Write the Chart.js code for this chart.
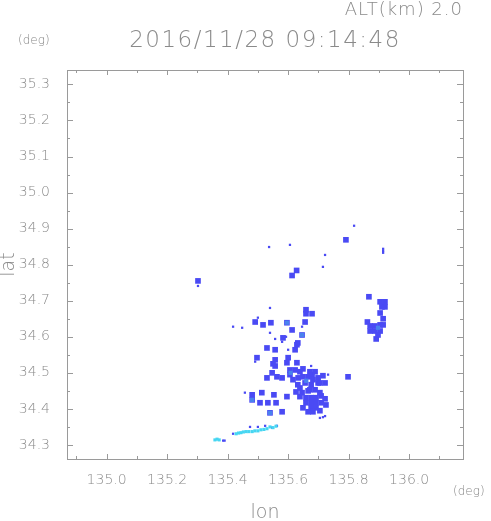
<!DOCTYPE html>
<html>
<head>
<meta charset="utf-8">
<script src="https://cdn.jsdelivr.net/npm/chart.js@4"></script>
<style>
  html, body { margin: 0; padding: 0; background: #fff; }
  canvas { display: block; }
</style>
</head>
<body>
<canvas id="radar" width="491" height="521"></canvas>
<script>
// ---- data (lon / lat in degrees) ----
const xTicks = [135.0, 135.2, 135.4, 135.6, 135.8, 136.0];
const yTicks = [34.3, 34.4, 34.5, 34.6, 34.7, 34.8, 34.9, 35.0, 35.1, 35.2, 35.3];
const xMinor = [134.9, 135.1, 135.3, 135.5, 135.7, 135.9, 136.1];
const yMinor = [34.35, 34.45, 34.55, 34.65, 34.75, 34.85, 34.95, 35.05, 35.15, 35.25];

// echo cells (main blue)
const cellLon = [135.791, 135.628, 135.613, 135.302, 135.867, 135.659, 135.659, 135.679,
  135.904, 135.920, 135.910, 135.904, 135.914, 135.871, 135.887, 135.904, 135.871, 135.887,
  135.904, 135.891, 135.798, 135.491, 135.656, 135.613, 135.646, 135.583, 135.623, 135.632,
  135.557, 135.557, 135.600, 135.629, 135.550, 135.596, 135.649, 135.547, 135.563, 135.580,
  135.606, 135.530, 135.649, 135.666, 135.679, 135.699, 135.715, 135.632, 135.656, 135.676,
  135.705, 135.626, 135.646, 135.666, 135.659, 135.676, 135.692, 135.709, 135.722, 135.659,
  135.676, 135.692, 135.709, 135.676, 135.692, 135.705, 135.481, 135.481, 135.540, 135.513,
  135.560, 135.580, 135.507, 135.533, 135.553, 135.596, 135.639, 135.530, 135.557, 135.497,
  135.543, 135.517, 135.596, 135.629,
  135.606, 135.623, 135.639, 135.672, 135.689, 135.616, 135.633, 135.682, 135.699, 135.722,
  135.639, 135.672, 135.689, 135.649, 135.725, 135.682, 135.666, 135.705,
  135.862, 135.914, 135.897, 135.920];
const cellLat = [34.869, 34.784, 34.770, 34.755, 34.711, 34.675, 34.664, 34.664,
  34.697, 34.697, 34.683, 34.666, 34.650, 34.630, 34.630, 34.633, 34.616, 34.616,
  34.616, 34.594, 34.489, 34.641, 34.641, 34.619, 34.605, 34.597, 34.564, 34.583,
  34.536, 34.519, 34.542, 34.528, 34.525, 34.528, 34.511, 34.500, 34.489, 34.486,
  34.495, 34.486, 34.489, 34.489, 34.495, 34.486, 34.492, 34.467, 34.472, 34.467,
  34.472, 34.447, 34.445, 34.450, 34.431, 34.431, 34.431, 34.436, 34.428, 34.417,
  34.417, 34.417, 34.417, 34.403, 34.403, 34.395, 34.425, 34.439, 34.389, 34.445,
  34.417, 34.392, 34.417, 34.417, 34.439, 34.434, 34.434, 34.569, 34.564, 34.542,
  34.639, 34.633, 34.639, 34.578,
  34.508, 34.508, 34.503, 34.503, 34.503, 34.481, 34.486, 34.481, 34.472, 34.472,
  34.458, 34.453, 34.453, 34.403, 34.411, 34.392, 34.392, 34.445,
  34.641, 34.633, 34.605, 34.683];

// single small echoes
const speckLon = [135.818, 135.537, 135.606, 135.722, 135.715, 135.302, 135.914, 135.914,
  135.914, 135.540, 135.418, 135.448, 135.500, 135.540, 135.557, 135.580, 135.600, 135.676,
  135.705, 135.715, 135.722, 135.491, 135.646, 135.593, 135.732, 135.457, 135.474, 135.500,
  135.524, 135.547, 135.563, 135.418, 135.385, 135.390];
const speckLat = [34.908, 34.849, 34.855, 34.827, 34.794, 34.741, 34.844, 34.838,
  34.833, 34.680, 34.628, 34.625, 34.653, 34.611, 34.594, 34.586, 34.564, 34.519,
  34.375, 34.377, 34.380, 34.531, 34.628, 34.600, 34.495, 34.445, 34.350, 34.350,
  34.353, 34.348, 34.353, 34.331, 34.312, 34.312];

// stronger echo cores
const coreLon = [135.481, 135.540, 135.897, 135.596, 135.646, 135.608, 135.660];
const coreLat = [34.425, 34.389, 34.625, 34.639, 34.605, 34.500, 34.478];

// weak band to the south-west
const bandLon = [135.358, 135.365, 135.372, 135.428, 135.436, 135.444, 135.452, 135.461,
  135.470, 135.481, 135.490, 135.500, 135.510, 135.520, 135.530, 135.540, 135.550, 135.560];
const bandLat = [34.314, 34.316, 34.314, 34.331, 34.333, 34.334, 34.336, 34.337,
  34.337, 34.337, 34.339, 34.339, 34.342, 34.343, 34.345, 34.350, 34.348, 34.352];

const toPts = (lons, lats) => lons.map((v, i) => ({ x: v, y: lats[i] }));

const grey = '#8a8a8a';
const font = 'DejaVu Sans';

// inward tick marks + frame, drawn through the chart's scales
const frame = {
  id: 'frame',
  afterDraw(chart) {
    const { ctx, chartArea: a, scales: { x, y } } = chart;
    ctx.save();
    ctx.strokeStyle = '#9a9a9a';
    ctx.lineWidth = 1;
    ctx.strokeRect(a.left + 0.5, a.top + 0.5, a.right - a.left, a.bottom - a.top);
    ctx.beginPath();
    const xt = (v, len) => {
      const px = Math.round(x.getPixelForValue(v)) + 0.5;
      ctx.moveTo(px, a.bottom); ctx.lineTo(px, a.bottom - len);
      ctx.moveTo(px, a.top); ctx.lineTo(px, a.top + len);
    };
    const yt = (v, len) => {
      const py = Math.round(y.getPixelForValue(v)) + 0.5;
      ctx.moveTo(a.left, py); ctx.lineTo(a.left + len, py);
      ctx.moveTo(a.right, py); ctx.lineTo(a.right - len, py);
    };
    xTicks.forEach(v => xt(v, 5));
    xMinor.forEach(v => xt(v, 3));
    yTicks.forEach(v => yt(v, 6));
    yMinor.forEach(v => yt(v, 3));
    ctx.stroke();

    // text around the frame
    ctx.fillStyle = grey;
    ctx.textBaseline = 'alphabetic';
    ctx.letterSpacing = '1px';
    ctx.font = `200 18px "${font}"`;
    ctx.textAlign = 'right';
    ctx.fillText('ALT(km) 2.0', a.right, 15);
    ctx.font = `200 23px "${font}"`;
    ctx.textAlign = 'center';
    ctx.letterSpacing = '1.5px';
    ctx.fillText('2016/11/28 09:14:48', (a.left + a.right) / 2, 47);
    ctx.letterSpacing = '0px';
    ctx.font = `200 12px "${font}"`;
    ctx.textAlign = 'left';
    ctx.fillText('(deg)', 18, 44);
    ctx.fillText('(deg)', 453, 495);
    ctx.font = `200 19px "${font}"`;
    ctx.textAlign = 'center';
    ctx.fillText('lon', (a.left + a.right) / 2, 518);
    ctx.translate(14, (a.top + a.bottom) / 2);
    ctx.rotate(-Math.PI / 2);
    ctx.fillText('lat', 0, 0);
    ctx.restore();
  }
};

new Chart(document.getElementById('radar'), {
  type: 'scatter',
  data: {
    datasets: [
      { data: toPts(coreLon, coreLat), backgroundColor: '#4a82ee', pointStyle: 'rect', pointRadius: 3, borderWidth: 0 },
      { data: toPts(bandLon, bandLat), backgroundColor: '#46d6f2', pointStyle: 'rect', pointRadius: 2.2, borderWidth: 0 },
      { data: toPts(speckLon, speckLat), backgroundColor: '#4a4af4', pointStyle: 'rect', pointRadius: 1.6, borderWidth: 0 },
      { data: toPts(cellLon, cellLat), backgroundColor: '#4a4af4', pointStyle: 'rect', pointRadius: 4, borderWidth: 0 }
    ]
  },
  options: {
    responsive: false,
    animation: false,
    layout: { padding: { top: 70, right: 28, left: 0, bottom: 0 } },
    plugins: { legend: { display: false }, tooltip: { enabled: false } },
    scales: {
      x: {
        type: 'linear', min: 134.869, max: 136.178,
        grid: { display: false }, border: { display: false },
        afterBuildTicks: s => { s.ticks = xTicks.map(v => ({ value: v })); },
        afterFit: s => { s.height = 62; },
        ticks: { padding: 5, color: grey, font: { family: font, size: 14, weight: 200 }, callback: v => v.toFixed(1) }
      },
      y: {
        type: 'linear', min: 34.261, max: 35.340,
        grid: { display: false }, border: { display: false },
        afterBuildTicks: s => { s.ticks = yTicks.map(v => ({ value: v })); },
        afterFit: s => { s.width = 67; },
        ticks: { padding: 9, color: grey, font: { family: font, size: 14, weight: 200 }, callback: v => v.toFixed(1) }
      }
    }
  },
  plugins: [frame]
});
</script>
</body>
</html>
